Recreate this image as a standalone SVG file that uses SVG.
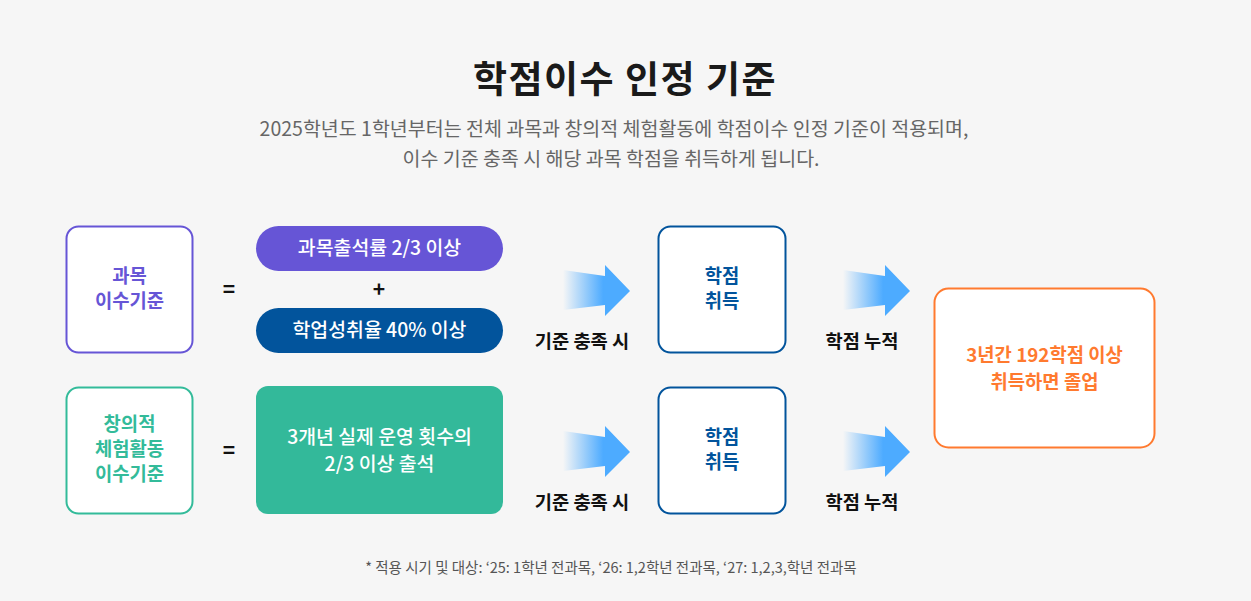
<svg xmlns="http://www.w3.org/2000/svg" width="1251" height="601" viewBox="0 0 1251 601">
<defs>
<linearGradient id="ag" x1="0" y1="0" x2="1" y2="0">
<stop offset="0" stop-color="#4dabff" stop-opacity="0"/>
<stop offset="0.6" stop-color="#4dabff" stop-opacity="1"/>
<stop offset="1" stop-color="#4dabff"/>
</linearGradient>
<path id="arrow" d="M0,4 L42,10 L42,-1 L67,25 L42,50 L42,39 L0,44 Z"/>
</defs>
<style>
text{font-family:"Noto Sans CJK KR","Noto Sans",sans-serif;text-anchor:middle}
.title{font-size:37px;font-weight:700;fill:#1a1a1a;letter-spacing:1.5px}
.sub{font-size:19.5px;fill:#666}
.lbl{font-size:18.8px;font-weight:700}
.w{font-size:19.4px;font-weight:500;fill:#fff}
.op{font-size:21px;font-weight:700;fill:#111}
.cap{font-size:18.7px;font-weight:700;fill:#111}
.note{font-size:14.5px;fill:#555}
.box{fill:#fff;stroke-width:2}
</style>
<rect width="1251" height="601" fill="#f6f6f6"/>
<g id="header">
<text class="title" x="625" y="93">학점이수 인정 기준</text>
<text class="sub" x="614" y="136">2025학년도 1학년부터는 전체 과목과 창의적 체험활동에 학점이수 인정 기준이 적용되며,</text>
<text class="sub" x="611" y="166">이수 기준 충족 시 해당 과목 학점을 취득하게 됩니다.</text>
</g>
<g id="subject-criteria">
<rect class="box" x="66.5" y="226.5" width="126" height="126" rx="12" stroke="#6655d6"/>
<text class="lbl" x="129.5" y="283" fill="#6655d6">과목</text>
<text class="lbl" x="129.5" y="308" fill="#6655d6">이수기준</text>
</g>
<g id="eq1"><text class="op" x="229" y="297">=</text></g>
<g id="attendance">
<rect x="256" y="226" width="247" height="45" rx="22.5" fill="#6655d6"/>
<text class="w" x="379.5" y="255">과목출석률 2/3 이상</text>
</g>
<g id="plus"><text class="op" x="379" y="297">+</text></g>
<g id="achievement">
<rect x="256" y="308" width="247" height="45" rx="22.5" fill="#02549c"/>
<text class="w" x="379.5" y="337">학업성취율 40% 이상</text>
</g>
<g id="credit1">
<rect class="box" x="658.5" y="226.5" width="127" height="126" rx="12" stroke="#02549c"/>
<text class="lbl" x="722" y="283" fill="#02549c">학점</text>
<text class="lbl" x="722" y="308" fill="#02549c">취득</text>
</g>
<g id="activity-criteria">
<rect class="box" x="66.5" y="387.5" width="126" height="126" rx="12" stroke="#33bb9a"/>
<text class="lbl" x="129.5" y="431" fill="#33bb9a">창의적</text>
<text class="lbl" x="129.5" y="456" fill="#33bb9a">체험활동</text>
<text class="lbl" x="129.5" y="481" fill="#33bb9a">이수기준</text>
</g>
<g id="eq2"><text class="op" x="229" y="458">=</text></g>
<g id="activity-attendance">
<rect x="256" y="386" width="247" height="128" rx="12" fill="#33b99a"/>
<text class="w" x="379.5" y="444">3개년 실제 운영 횟수의</text>
<text class="w" x="379.5" y="471">2/3 이상 출석</text>
</g>
<g id="credit2">
<rect class="box" x="658.5" y="387.5" width="127" height="126" rx="12" stroke="#02549c"/>
<text class="lbl" x="722" y="444" fill="#02549c">학점</text>
<text class="lbl" x="722" y="469" fill="#02549c">취득</text>
</g>
<g id="graduation">
<rect class="box" x="934.5" y="288.5" width="220" height="159" rx="14" stroke="#ff7a2f"/>
<text class="lbl" x="1044.5" y="362" fill="#ff7a2f">3년간 192학점 이상</text>
<text class="lbl" x="1044.5" y="389" fill="#ff7a2f">취득하면 졸업</text>
</g>
<g id="connectors">
<use href="#arrow" x="563" y="266" fill="url(#ag)"/>
<use href="#arrow" x="843" y="266" fill="url(#ag)"/>
<use href="#arrow" x="563" y="427" fill="url(#ag)"/>
<use href="#arrow" x="843" y="427" fill="url(#ag)"/>
<text class="cap" x="582" y="348">기준 충족 시</text>
<text class="cap" x="862" y="348">학점 누적</text>
<text class="cap" x="582" y="509">기준 충족 시</text>
<text class="cap" x="862" y="509">학점 누적</text>
</g>
<g id="footnote">
<text class="note" x="611" y="573">* 적용 시기 및 대상: ‘25: 1학년 전과목, ‘26: 1,2학년 전과목, ‘27: 1,2,3,학년 전과목</text>
</g>
</svg>
